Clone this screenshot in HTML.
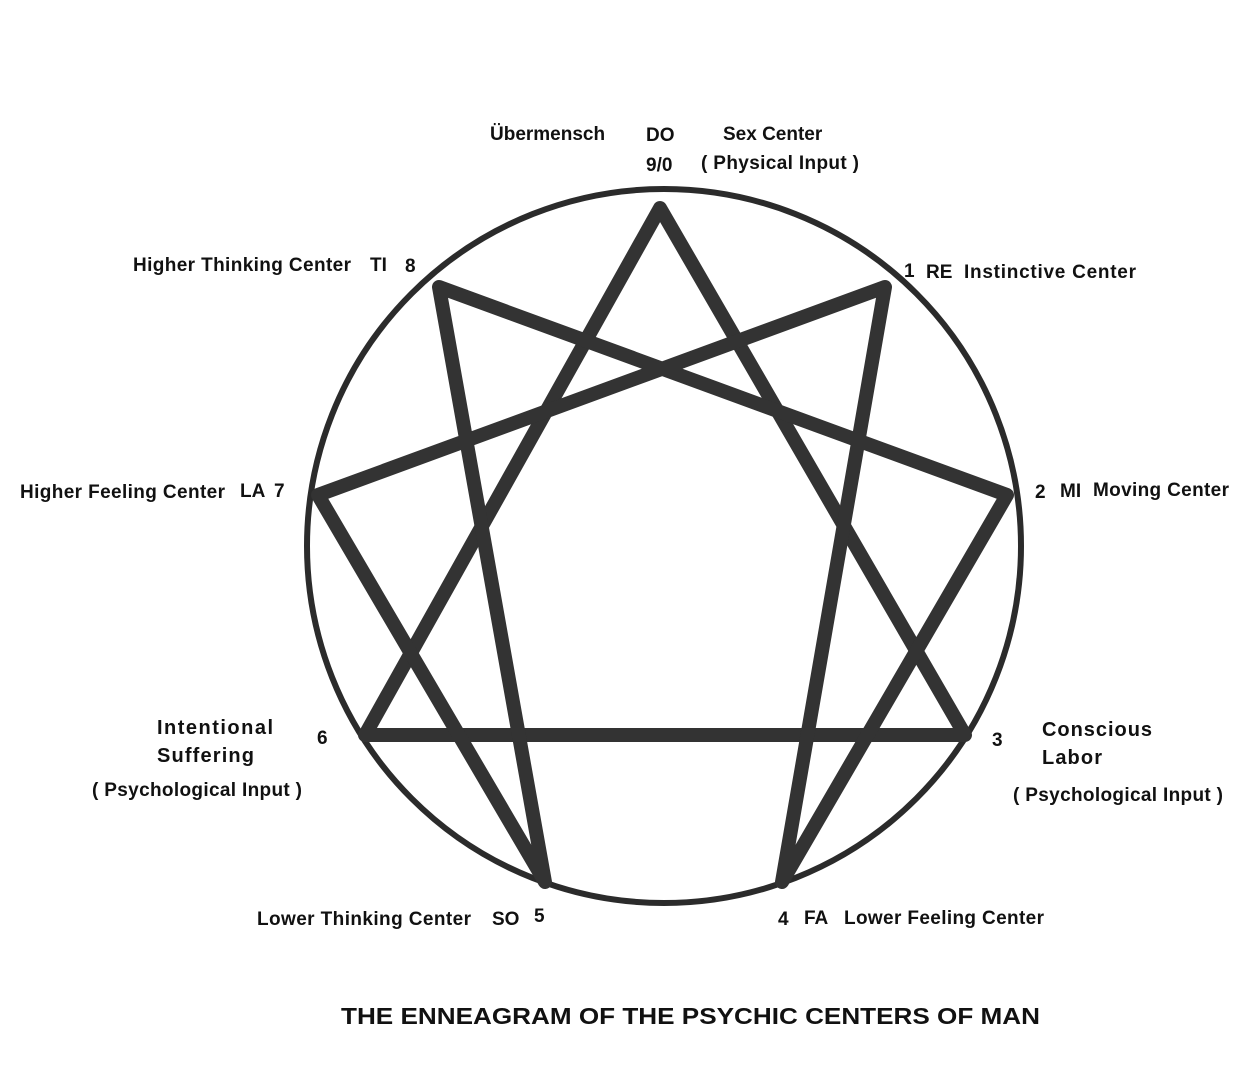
<!DOCTYPE html>
<html><head><meta charset="utf-8"><style>
html,body{margin:0;padding:0;background:#fff;}
svg text{font-family:"Liberation Sans",Arial,sans-serif;font-weight:bold;font-size:19px;fill:#111;}
</style></head><body>
<svg width="1251" height="1075" viewBox="0 0 1251 1075" xmlns="http://www.w3.org/2000/svg">
<circle cx="664" cy="546" r="357" fill="none" stroke="#2b2b2b" stroke-width="6"/>
<g fill="none" stroke="#333" stroke-width="14" stroke-linejoin="round">
<polygon points="660,208 965,735 365,735"/>
<polygon points="885,287 782,882 1007,495 439,287 545,882 318,495"/>
</g>
<text x="490" y="140">Übermensch</text>
<text x="646" y="141">DO</text>
<text x="646" y="171">9/0</text>
<text x="723" y="140">Sex Center</text>
<text x="701" y="169" textLength="158">( Physical Input )</text>
<text x="133" y="271" textLength="218">Higher Thinking Center</text>
<text x="370" y="271">TI</text>
<text x="405" y="272">8</text>
<text x="904" y="277">1</text>
<text x="926" y="278">RE</text>
<text x="964" y="278" textLength="172">Instinctive  Center</text>
<text x="20" y="498" textLength="205">Higher Feeling Center</text>
<text x="240" y="497">LA</text>
<text x="274" y="497">7</text>
<text x="1035" y="498">2</text>
<text x="1060" y="497">MI</text>
<text x="1093" y="496" textLength="136">Moving Center</text>
<text x="157" y="734" style="font-size:20px" textLength="116">Intentional</text>
<text x="157" y="762" style="font-size:20px" textLength="97">Suffering</text>
<text x="317" y="744">6</text>
<text x="92" y="796" textLength="210">( Psychological Input )</text>
<text x="992" y="746">3</text>
<text x="1042" y="736" style="font-size:20px" textLength="110">Conscious</text>
<text x="1042" y="764" style="font-size:20px" textLength="60">Labor</text>
<text x="1013" y="801" textLength="210">( Psychological Input )</text>
<text x="257" y="925" textLength="214">Lower Thinking Center</text>
<text x="492" y="925">SO</text>
<text x="534" y="922">5</text>
<text x="778" y="925">4</text>
<text x="804" y="924">FA</text>
<text x="844" y="924" textLength="200">Lower Feeling Center</text>
<text x="341" y="1024" style="font-size:23px" textLength="699" lengthAdjust="spacingAndGlyphs">THE ENNEAGRAM OF THE PSYCHIC CENTERS  OF MAN</text>
</svg>
</body></html>
